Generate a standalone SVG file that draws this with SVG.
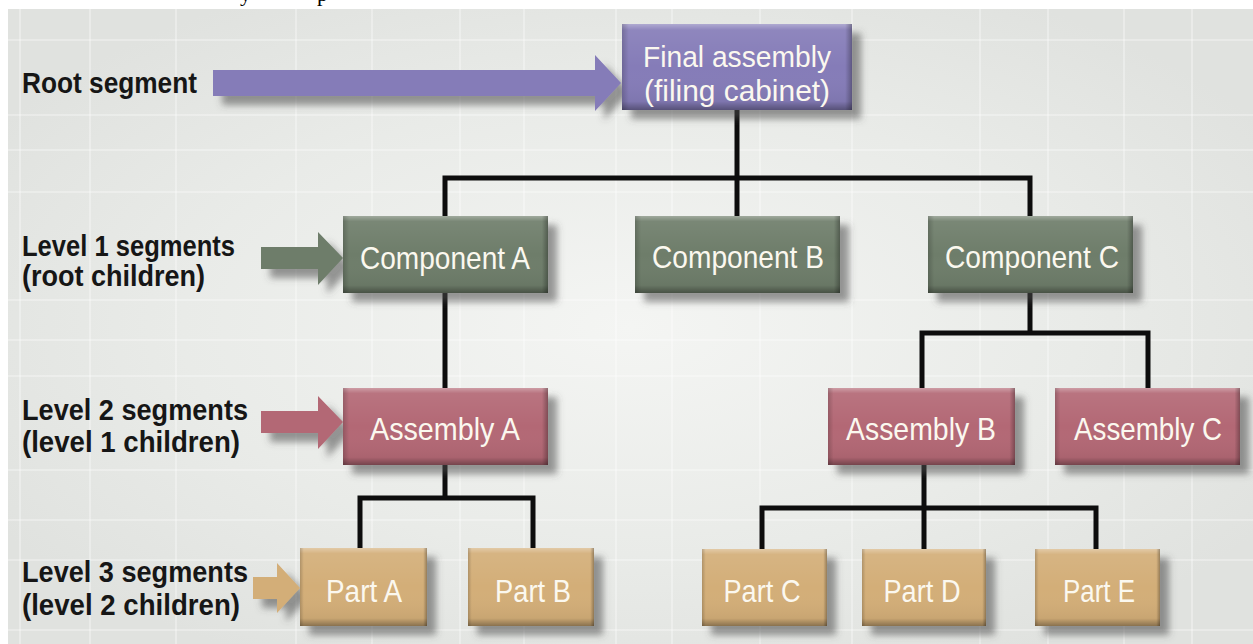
<svg xmlns="http://www.w3.org/2000/svg" width="1253" height="644" viewBox="0 0 1253 644">
  <defs>
    <style>
      .lbl { font-family: "Liberation Sans Narrow", "Liberation Sans", Arial, sans-serif; font-weight: bold; font-size: 30px; fill: #161616; }
      .nt { font-family: "Liberation Sans Narrow", "Liberation Sans", Arial, sans-serif; font-size: 32px; fill: #fbf8ef; text-anchor: middle; }
      .nt2 { font-size: 29px; }
      .purple { fill: #857bb8; }
      .green { fill: #6e7d6b; }
      .pink { fill: #b36874; }
      .tan { fill: #d3ae78; }
      .wire { fill: none; stroke: #0d0d0d; stroke-width: 5; stroke-linejoin: miter; stroke-linecap: square; }
      .grid line { stroke: #ffffff; stroke-opacity: 0.4; stroke-width: 1.6; }
    </style>
    <radialGradient id="wash" cx="0.5" cy="0.5" r="0.6">
      <stop offset="0" stop-color="#f4f5f3"/>
      <stop offset="0.6" stop-color="#e9ebe8"/>
      <stop offset="1" stop-color="#e0e2df"/>
    </radialGradient>
    <!-- bevel overlays shared by every box -->
    <linearGradient id="bevelV" x1="0" y1="0" x2="0" y2="1">
      <stop offset="0" stop-color="#ffffff" stop-opacity="0.35"/>
      <stop offset="0.07" stop-color="#ffffff" stop-opacity="0.08"/>
      <stop offset="0.5" stop-color="#ffffff" stop-opacity="0"/>
      <stop offset="0.9" stop-color="#000000" stop-opacity="0.05"/>
      <stop offset="1" stop-color="#000000" stop-opacity="0.35"/>
    </linearGradient>
    <linearGradient id="bevelH" x1="0" y1="0" x2="1" y2="0">
      <stop offset="0" stop-color="#000000" stop-opacity="0.18"/>
      <stop offset="0.03" stop-color="#000000" stop-opacity="0"/>
      <stop offset="0.97" stop-color="#000000" stop-opacity="0"/>
      <stop offset="1" stop-color="#000000" stop-opacity="0.3"/>
    </linearGradient>
    <filter id="drop" x="-10%" y="-15%" width="130%" height="150%">
      <feGaussianBlur in="SourceAlpha" stdDeviation="3.5"/>
      <feOffset dx="9" dy="9" result="b"/>
      <feFlood flood-color="#4a4a4a" flood-opacity="0.55"/>
      <feComposite in2="b" operator="in"/>
      <feMerge><feMergeNode/><feMergeNode in="SourceGraphic"/></feMerge>
    </filter>
  </defs>

  <!-- page and grid board -->
  <rect width="1253" height="644" fill="#ffffff"/>
  <text x="240" y="1" font-family="'Liberation Serif', serif" font-size="22" fill="#000">y</text>
  <text x="317" y="1" font-family="'Liberation Serif', serif" font-size="22" fill="#000">p</text>
  <rect x="8" y="9" width="1245" height="635" fill="url(#wash)"/>
  <g class="grid">
    <line x1="20" y1="9" x2="20" y2="644"/>
    <line x1="90" y1="9" x2="90" y2="644"/>
    <line x1="176" y1="9" x2="176" y2="644"/>
    <line x1="296" y1="9" x2="296" y2="644"/>
    <line x1="372" y1="9" x2="372" y2="644"/>
    <line x1="460" y1="9" x2="460" y2="644"/>
    <line x1="524" y1="9" x2="524" y2="644"/>
    <line x1="616" y1="9" x2="616" y2="644"/>
    <line x1="672" y1="9" x2="672" y2="644"/>
    <line x1="760" y1="9" x2="760" y2="644"/>
    <line x1="852" y1="9" x2="852" y2="644"/>
    <line x1="980" y1="9" x2="980" y2="644"/>
    <line x1="1048" y1="9" x2="1048" y2="644"/>
    <line x1="1124" y1="9" x2="1124" y2="644"/>
    <line x1="1192" y1="9" x2="1192" y2="644"/>
    <line x1="8" y1="40" x2="1253" y2="40"/>
    <line x1="8" y1="115" x2="1253" y2="115"/>
    <line x1="8" y1="150" x2="1253" y2="150"/>
    <line x1="8" y1="192" x2="1253" y2="192"/>
    <line x1="8" y1="300" x2="1253" y2="300"/>
    <line x1="8" y1="340" x2="1253" y2="340"/>
    <line x1="8" y1="376" x2="1253" y2="376"/>
    <line x1="8" y1="470" x2="1253" y2="470"/>
    <line x1="8" y1="520" x2="1253" y2="520"/>
    <line x1="8" y1="560" x2="1253" y2="560"/>
    <line x1="8" y1="630" x2="1253" y2="630"/>
  </g>

  <!-- level captions -->
  <g id="captions">
    <text class="lbl" x="22" y="93" textLength="175" lengthAdjust="spacingAndGlyphs">Root segment</text>
    <text class="lbl" x="22" y="256" textLength="213" lengthAdjust="spacingAndGlyphs">Level 1 segments</text>
    <text class="lbl" x="22" y="286" textLength="183" lengthAdjust="spacingAndGlyphs">(root children)</text>
    <text class="lbl" x="22" y="420" textLength="226" lengthAdjust="spacingAndGlyphs">Level 2 segments</text>
    <text class="lbl" x="22" y="452" textLength="218" lengthAdjust="spacingAndGlyphs">(level 1 children)</text>
    <text class="lbl" x="22" y="582" textLength="226" lengthAdjust="spacingAndGlyphs">Level 3 segments</text>
    <text class="lbl" x="22" y="615" textLength="218" lengthAdjust="spacingAndGlyphs">(level 2 children)</text>
  </g>

  <!-- pointer arrows -->
  <g id="pointers" filter="url(#drop)">
    <polygon class="purple" points="213,70 595,70 595,55 621,83 595,111 595,96 213,96"/>
    <polygon class="green" points="261,247 318,247 318,232 343,258 318,285 318,269 261,269"/>
    <polygon class="pink" points="261,411 318,411 318,396 343,422 318,449 318,433 261,433"/>
    <polygon class="tan" points="253,577 277,577 277,563 300,588 277,613 277,599 253,599"/>
  </g>

  <!-- tree connectors -->
  <g id="connectors" class="wire">
    <path d="M737,110 V178 M445,216 V178 H1030 V216 M737,178 V216"/>
    <path d="M445,293 V388"/>
    <path d="M1030,293 V333 M922,388 V333 H1148 V388"/>
    <path d="M445,465 V498 M360,548 V498 H533 V548"/>
    <path d="M924,465 V508 M762,549 V508 H1096 V549 M924,508 V549"/>
  </g>

  <!-- root -->
  <g id="final-assembly">
    <rect class="purple" x="622" y="24" width="230" height="86" filter="url(#drop)"/>
    <rect x="622" y="24" width="230" height="86" fill="url(#bevelV)"/>
    <rect x="622" y="24" width="230" height="86" fill="url(#bevelH)"/>
    <text class="nt nt2" x="737" y="67" textLength="188" lengthAdjust="spacingAndGlyphs">Final assembly</text>
    <text class="nt nt2" x="737" y="101" textLength="186" lengthAdjust="spacingAndGlyphs">(filing cabinet)</text>
  </g>

  <!-- level 1 -->
  <g id="component-a">
    <rect class="green" x="343" y="216" width="205" height="77" filter="url(#drop)"/>
    <rect x="343" y="216" width="205" height="77" fill="url(#bevelV)"/>
    <rect x="343" y="216" width="205" height="77" fill="url(#bevelH)"/>
    <text class="nt" x="445" y="269" textLength="170" lengthAdjust="spacingAndGlyphs">Component A</text>
  </g>
  <g id="component-b">
    <rect class="green" x="635" y="216" width="205" height="77" filter="url(#drop)"/>
    <rect x="635" y="216" width="205" height="77" fill="url(#bevelV)"/>
    <rect x="635" y="216" width="205" height="77" fill="url(#bevelH)"/>
    <text class="nt" x="738" y="268" textLength="172" lengthAdjust="spacingAndGlyphs">Component B</text>
  </g>
  <g id="component-c">
    <rect class="green" x="928" y="216" width="205" height="77" filter="url(#drop)"/>
    <rect x="928" y="216" width="205" height="77" fill="url(#bevelV)"/>
    <rect x="928" y="216" width="205" height="77" fill="url(#bevelH)"/>
    <text class="nt" x="1032" y="268" textLength="174" lengthAdjust="spacingAndGlyphs">Component C</text>
  </g>

  <!-- level 2 -->
  <g id="assembly-a">
    <rect class="pink" x="343" y="388" width="205" height="77" filter="url(#drop)"/>
    <rect x="343" y="388" width="205" height="77" fill="url(#bevelV)"/>
    <rect x="343" y="388" width="205" height="77" fill="url(#bevelH)"/>
    <text class="nt" x="445" y="440" textLength="150" lengthAdjust="spacingAndGlyphs">Assembly A</text>
  </g>
  <g id="assembly-b">
    <rect class="pink" x="828" y="388" width="187" height="77" filter="url(#drop)"/>
    <rect x="828" y="388" width="187" height="77" fill="url(#bevelV)"/>
    <rect x="828" y="388" width="187" height="77" fill="url(#bevelH)"/>
    <text class="nt" x="921" y="440" textLength="150" lengthAdjust="spacingAndGlyphs">Assembly B</text>
  </g>
  <g id="assembly-c">
    <rect class="pink" x="1055" y="388" width="185" height="77" filter="url(#drop)"/>
    <rect x="1055" y="388" width="185" height="77" fill="url(#bevelV)"/>
    <rect x="1055" y="388" width="185" height="77" fill="url(#bevelH)"/>
    <text class="nt" x="1148" y="440" textLength="148" lengthAdjust="spacingAndGlyphs">Assembly C</text>
  </g>

  <!-- level 3 -->
  <g id="part-a">
    <rect class="tan" x="300" y="548" width="127" height="78" filter="url(#drop)"/>
    <rect x="300" y="548" width="127" height="78" fill="url(#bevelV)"/>
    <rect x="300" y="548" width="127" height="78" fill="url(#bevelH)"/>
    <text class="nt" x="364" y="602" textLength="76" lengthAdjust="spacingAndGlyphs">Part A</text>
  </g>
  <g id="part-b">
    <rect class="tan" x="468" y="548" width="126" height="78" filter="url(#drop)"/>
    <rect x="468" y="548" width="126" height="78" fill="url(#bevelV)"/>
    <rect x="468" y="548" width="126" height="78" fill="url(#bevelH)"/>
    <text class="nt" x="533" y="602" textLength="76" lengthAdjust="spacingAndGlyphs">Part B</text>
  </g>
  <g id="part-c">
    <rect class="tan" x="702" y="549" width="125" height="77" filter="url(#drop)"/>
    <rect x="702" y="549" width="125" height="77" fill="url(#bevelV)"/>
    <rect x="702" y="549" width="125" height="77" fill="url(#bevelH)"/>
    <text class="nt" x="762" y="602" textLength="77" lengthAdjust="spacingAndGlyphs">Part C</text>
  </g>
  <g id="part-d">
    <rect class="tan" x="862" y="549" width="124" height="77" filter="url(#drop)"/>
    <rect x="862" y="549" width="124" height="77" fill="url(#bevelV)"/>
    <rect x="862" y="549" width="124" height="77" fill="url(#bevelH)"/>
    <text class="nt" x="922" y="602" textLength="77" lengthAdjust="spacingAndGlyphs">Part D</text>
  </g>
  <g id="part-e">
    <rect class="tan" x="1035" y="549" width="125" height="77" filter="url(#drop)"/>
    <rect x="1035" y="549" width="125" height="77" fill="url(#bevelV)"/>
    <rect x="1035" y="549" width="125" height="77" fill="url(#bevelH)"/>
    <text class="nt" x="1099" y="602" textLength="72" lengthAdjust="spacingAndGlyphs">Part E</text>
  </g>
</svg>
